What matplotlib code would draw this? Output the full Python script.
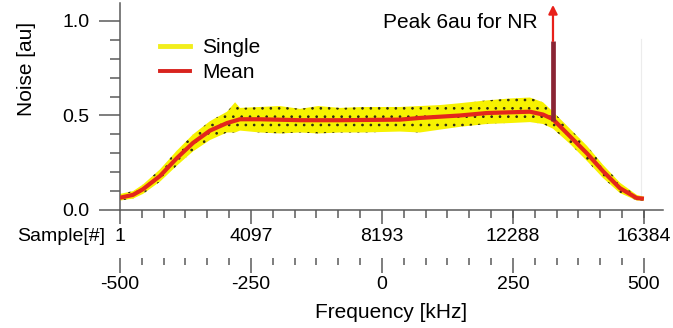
"""Noise spectrum of single acquisitions vs. their mean, sample and frequency axes."""
import matplotlib
matplotlib.use("Agg")
import matplotlib.pyplot as plt
from matplotlib.lines import Line2D

plt.rcParams["font.family"] = ["Liberation Sans", "DejaVu Sans"]
plt.rcParams["hatch.linewidth"] = 0.7

# mean noise (sample index -> au)
mean_samples = [1, 407, 720, 1252, 1783, 2284, 2815, 3347, 3753, 4378, 5630, 6880,
                8750, 9380, 10630, 11475, 12820, 13227, 13540, 14070, 14600, 15100,
                15630, 16160, 16384]
mean_noise = [0.065, 0.08, 0.11, 0.18, 0.275, 0.355, 0.42, 0.46, 0.48, 0.48, 0.475, 0.475,
              0.478, 0.487, 0.50, 0.513, 0.52, 0.505, 0.48, 0.39, 0.30, 0.206,
              0.116, 0.063, 0.06]

# envelope of the single acquisitions (yellow band)
band_samples = [1, 407, 720, 1252, 1783, 2284, 2815, 3347, 3600, 3753, 4378, 5000,
                5630, 6200, 6880, 7600, 8750, 9380, 10000, 10630, 11475, 12200,
                12820, 13227, 13540, 14070, 14600, 15100, 15630, 16160, 16384]
band_upper = [0.085, 0.10, 0.135, 0.215, 0.315, 0.40, 0.47, 0.52, 0.57, 0.54, 0.545, 0.55,
              0.535, 0.55, 0.54, 0.545, 0.545, 0.55, 0.555, 0.565, 0.58, 0.59,
              0.595, 0.57, 0.52, 0.43, 0.34, 0.24, 0.145, 0.08, 0.07]
band_lower = [0.05, 0.06, 0.085, 0.15, 0.235, 0.31, 0.37, 0.41, 0.41, 0.42, 0.41, 0.405,
              0.41, 0.405, 0.41, 0.41, 0.415, 0.41, 0.425, 0.44, 0.455, 0.46,
              0.465, 0.455, 0.43, 0.35, 0.26, 0.17, 0.09, 0.05, 0.05]

# narrowband interferer, clipped at the top of the plot
peak_sample = 13540
peak_base, peak_top, peak_arrow_top = 0.47, 0.894, 1.085

sample_major = [1, 4097, 8193, 12288, 16384]
freq_major = [-500, -250, 0, 250, 500]
N_SAMPLES = 16384
SPAN_KHZ = 1000.0


def s2f(s):
    return (s - 1) / (N_SAMPLES - 1) * SPAN_KHZ - SPAN_KHZ / 2


def f2s(f):
    return (f + SPAN_KHZ / 2) / SPAN_KHZ * (N_SAMPLES - 1) + 1


def main() -> None:
    fig = plt.figure(figsize=(6.73, 3.28), dpi=100)
    ax = fig.add_axes([120 / 673, 118 / 328, 543 / 673, 207 / 328])
    axis_grey = "#5a5a5a"

    ax.fill_between(band_samples, band_lower, band_upper, facecolor="#f7f200",
                    edgecolor="#2e2a14", linewidth=0, hatch="..", zorder=2)
    ax.plot(mean_samples, mean_noise, color="#e4261c", lw=3.0, zorder=3,
            solid_capstyle="butt")

    ax.vlines(peak_sample, peak_base, peak_top, color="#8a2434", lw=3.4, zorder=4)
    ax.annotate("", xy=(peak_sample, peak_arrow_top), xytext=(peak_sample, peak_top),
                arrowprops=dict(arrowstyle="-|>", color="#e8201a", lw=1.6,
                                mutation_scale=13, shrinkA=0, shrinkB=0),
                zorder=5, annotation_clip=False)
    ax.text(13070, 0.99, "Peak 6au for NR", ha="right", va="center", fontsize=15)
    # faint frame line at the right edge of the original trace window
    ax.plot([16300, 16300], [0.07, 0.905], color="#ececec", lw=0.8, zorder=1)

    ax.set_xlim(1, 16980)
    ax.set_ylim(0, 1.095)
    for side in ("top", "right"):
        ax.spines[side].set_visible(False)
    for side in ("left", "bottom"):
        ax.spines[side].set_color(axis_grey)
        ax.spines[side].set_linewidth(1.1)

    ax.set_yticks([0.0, 0.5, 1.0])
    ax.set_yticks([0.1 * k for k in range(11)], minor=True)
    ax.set_yticklabels(["0.0", "0.5", "1.0"])
    ax.tick_params(axis="y", which="major", length=15, width=1.1, color=axis_grey,
                   labelsize=14, pad=7)
    ax.tick_params(axis="y", which="minor", length=7, width=1.1, color=axis_grey)
    ax.set_ylabel("Noise [au]", fontsize=15)
    ax.yaxis.set_label_coords(-0.155, 0.68)

    ax.set_xticks(sample_major)
    ax.set_xticks([1 + k * 4096 / 6 for k in range(25)], minor=True)
    ax.set_xticklabels([str(s) for s in sample_major])
    ax.tick_params(axis="x", which="major", length=10, width=1.1, color=axis_grey,
                   labelsize=14, pad=3)
    ax.tick_params(axis="x", which="minor", length=6, width=1.1, color=axis_grey)
    ax.text(-0.028, -0.128, "Sample[#]", transform=ax.transAxes, ha="right",
            va="center", fontsize=14)

    sec = ax.secondary_xaxis(-0.232, functions=(s2f, f2s))
    sec.spines["bottom"].set_visible(False)
    sec.set_xticks(freq_major)
    sec.set_xticks([-500 + k * 250 / 6 for k in range(25)], minor=True)
    sec.set_xticklabels([str(f) for f in freq_major])
    sec.tick_params(axis="x", which="major", length=11, width=1.1, color=axis_grey,
                    labelsize=14, pad=2)
    sec.tick_params(axis="x", which="minor", length=5, width=1.1, color=axis_grey)
    sec.set_xlabel("Frequency [kHz]", fontsize=15, labelpad=7)

    handles = [Line2D([], [], color="#f2ee1c", lw=3.5),
               Line2D([], [], color="#d8231e", lw=2.8)]
    ax.legend(handles, ["Single", "Mean"], loc="upper left",
              bbox_to_anchor=(0.074, 0.83), frameon=False, fontsize=15,
              handlelength=1.45, handletextpad=0.55, borderpad=0,
              borderaxespad=0, labelspacing=0.3)

    fig.savefig("out.png", dpi=100)


if __name__ == "__main__":
    main()
